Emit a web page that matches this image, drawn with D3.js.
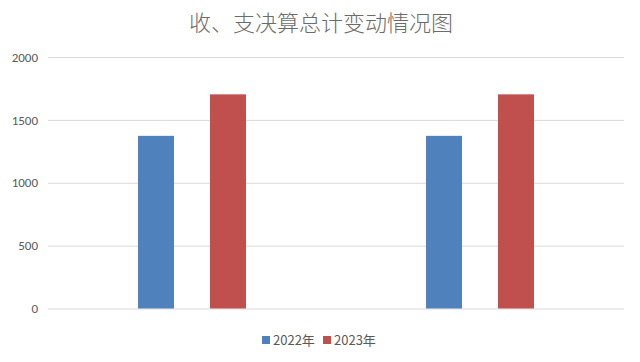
<!DOCTYPE html>
<html>
<head>
<meta charset="utf-8">
<script src="https://cdn.jsdelivr.net/npm/d3@7"></script>
<style>
  html, body { margin: 0; padding: 0; background: #fff; }
  svg { display: block; font-family: "Noto Sans CJK SC", "Noto Sans", sans-serif; }
</style>
</head>
<body>
<svg id="chart" width="640" height="362"></svg>
<script>
const TITLE = '收、支决算总计变动情况图';
const categories = ['收入决算总计', '支出决算总计'];
const series = ['2022年', '2023年'];
const values2022 = [1373, 1373];
const values2023 = [1703, 1703];
const yTicks = [0, 500, 1000, 1500, 2000];

const COLORS = ['#4f81bd', '#c0504d'];
const TEXT = '#595959';

const svg = d3.select('#chart');
const plotLeft = 48, plotRight = 624, plotTop = 57, plotBottom = 308.5;

const y = d3.scaleLinear().domain([0, 2000]).range([plotBottom, plotTop]);
const x0 = d3.scaleBand().domain(categories).range([plotLeft, plotRight]).padding(0);
const x1 = d3.scaleBand().domain(series).range([0, x0.bandwidth()])
  .paddingInner(0.5).paddingOuter(1.25);

// title
svg.append('text')
  .attr('x', 321)
  .attr('y', 31)
  .attr('text-anchor', 'middle')
  .attr('font-size', 22)
  .attr('font-weight', 300)
  .attr('fill', '#6b6b6b')
  .text(TITLE);

// gridlines + y labels
const yAxis = d3.axisLeft(y)
  .tickValues(yTicks)
  .tickFormat(d3.format('d'))
  .tickSize(-(plotRight - plotLeft))
  .tickPadding(10);
const g = svg.append('g').attr('transform', `translate(${plotLeft},0)`).call(yAxis);
g.select('.domain').remove();
g.selectAll('.tick line').attr('stroke', '#d9d9d9').attr('stroke-width', 1);
g.selectAll('.tick text').attr('fill', TEXT).attr('font-size', 13)
  .attr('font-family', 'Calibri, "Liberation Sans", "Open Sans", sans-serif');

// bars
const rows = categories.map((c, i) => ({ cat: c, vals: [values2022[i], values2023[i]] }));
const groups = svg.append('g').selectAll('g')
  .data(rows)
  .join('g')
  .attr('transform', d => `translate(${x0(d.cat)},0)`);

groups.selectAll('rect')
  .data(d => d.vals.map((v, j) => ({ s: series[j], v, j })))
  .join('rect')
  .attr('x', d => x1(d.s))
  .attr('width', x1.bandwidth())
  .attr('y', d => y(d.v))
  .attr('height', d => y(0) - y(d.v))
  .attr('fill', d => COLORS[d.j]);

// legend
const legendX = [262, 323];
const legend = svg.append('g').selectAll('g')
  .data(series)
  .join('g')
  .attr('transform', (d, i) => `translate(${legendX[i]},336)`);

legend.append('rect')
  .attr('width', 8)
  .attr('height', 8)
  .attr('fill', (d, i) => COLORS[i]);

legend.append('text')
  .attr('x', 11)
  .attr('y', 8.5)
  .attr('font-size', 13)
  .attr('fill', TEXT)
  .text(d => d);
</script>
</body>
</html>
